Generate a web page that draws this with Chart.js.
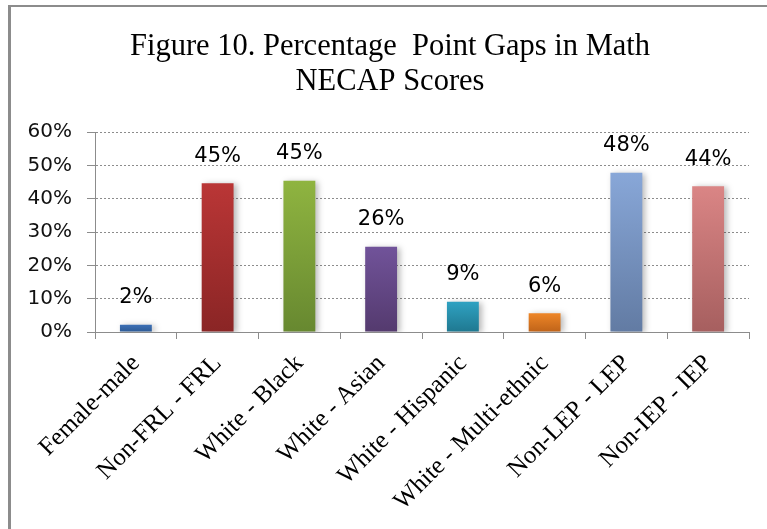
<!DOCTYPE html>
<html>
<head>
<meta charset="utf-8">
<script src="https://cdn.jsdelivr.net/npm/chart.js@4"></script>
<style>
  body { margin: 0; background: #fff; overflow: hidden; }
  #frame { position: absolute; left: 8px; top: 5px; width: 900px; height: 700px;
           border-left: 3px solid #8c8c8c; border-top: 2px solid #8c8c8c; }
  #wrap { position: absolute; left: 0; top: 0; width: 767px; height: 529px; }
</style>
</head>
<body>
<div id="frame"></div>
<div id="wrap"><canvas id="chart"></canvas></div>
<script>
const titleLines = ['Figure 10. Percentage  Point Gaps in Math', 'NECAP Scores'];
const categories = ['Female-male', 'Non-FRL - FRL', 'White - Black', 'White - Asian',
  'White - Hispanic', 'White - Multi-ethnic', 'Non-LEP - LEP', 'Non-IEP - IEP'];
const gaps = [2.2, 44.6, 45.4, 25.6, 9.1, 5.6, 47.8, 43.7];
const yTicks = [0, 10, 20, 30, 40, 50, 60];

const topColors = ['#3d70b6', '#ba3636', '#8fb440', '#71539a', '#2fa2c2', '#ee8627', '#88a7d8', '#da8585'];
const bottomColors = ['#2d5a94', '#8a2525', '#678830', '#543a6e', '#1f7890', '#bf6319', '#627ba3', '#a65f5f'];

function barFill(ctx) {
  const chart = ctx.chart;
  const i = ctx.dataIndex;
  if (!chart.chartArea || !chart.scales.y) return topColors[i];
  const y = chart.scales.y;
  const t = y.getPixelForValue(gaps[i]);
  const b = y.getPixelForValue(0);
  const g = chart.ctx.createLinearGradient(0, t, 0, b);
  g.addColorStop(0, topColors[i]);
  g.addColorStop(1, bottomColors[i]);
  return g;
}

// title, centred on the frame rather than the canvas
const frameTitle = {
  id: 'frameTitle',
  afterDraw(chart) {
    const c = chart.ctx;
    c.save();
    c.font = '30.5px "Liberation Serif"';
    c.fillStyle = '#000';
    c.textAlign = 'center';
    c.textBaseline = 'middle';
    titleLines.forEach((line, i) => c.fillText(line, 390, 47 + i * 35));
    c.restore();
  }
};

// soft shadow to the right of the bars
const barShadow = {
  id: 'barShadow',
  beforeDatasetsDraw(chart) {
    const c = chart.ctx;
    c.save();
    c.shadowColor = 'rgba(0,0,0,0.28)';
    c.shadowBlur = 6;
    c.shadowOffsetX = 3;
    c.shadowOffsetY = 1;
  },
  afterDatasetsDraw(chart) {
    chart.ctx.restore();
  }
};

// value labels over the bars
const valueLabels = {
  id: 'valueLabels',
  afterDraw(chart) {
    const c = chart.ctx;
    const meta = chart.getDatasetMeta(0);
    c.save();
    c.font = '21px "DejaVu Sans"';
    c.fillStyle = '#000';
    c.textAlign = 'center';
    c.textBaseline = 'middle';
    meta.data.forEach((bar, i) => {
      c.fillText(Math.round(gaps[i]) + '%', bar.x, bar.y - 27);
    });
    c.restore();
  }
};

new Chart(document.getElementById('chart'), {
  type: 'bar',
  data: {
    labels: categories,
    datasets: [{
      data: gaps,
      backgroundColor: barFill,
      borderWidth: 0,
      barPercentage: 0.39,
      categoryPercentage: 1
    }]
  },
  options: {
    responsive: true,
    maintainAspectRatio: false,
    animation: false,
    layout: { padding: { left: 0, right: 18, top: 132, bottom: 0 } },
    plugins: {
      legend: { display: false },
      tooltip: { enabled: false },
      title: { display: false }
    },
    scales: {
      y: {
        min: 0,
        max: 60,
        afterBuildTicks(scale) {
          scale.ticks = yTicks.map(v => ({ value: v }));
        },
        afterFit(scale) { scale.width = 95; },
        ticks: {
          callback: v => v + '%',
          color: '#111',
          font: { family: '"DejaVu Sans"', size: 20 },
          padding: 15
        },
        grid: { color: '#8c8c8c', tickLength: 8, tickBorderDash: [], lineWidth: 1 },
        border: { display: true, color: '#8c8c8c', dash: [2, 2] }
      },
      x: {
        afterFit(scale) { scale.height = 197; },
        ticks: {
          color: '#000',
          font: { family: '"Liberation Serif"', size: 25 },
          maxRotation: 45,
          minRotation: 45,
          padding: 10
        },
        grid: { offset: true, drawOnChartArea: false, color: '#8c8c8c', tickLength: 7 },
        border: { display: true, color: '#8c8c8c' }
      }
    }
  },
  plugins: [barShadow, valueLabels, frameTitle]
});
</script>
</body>
</html>
